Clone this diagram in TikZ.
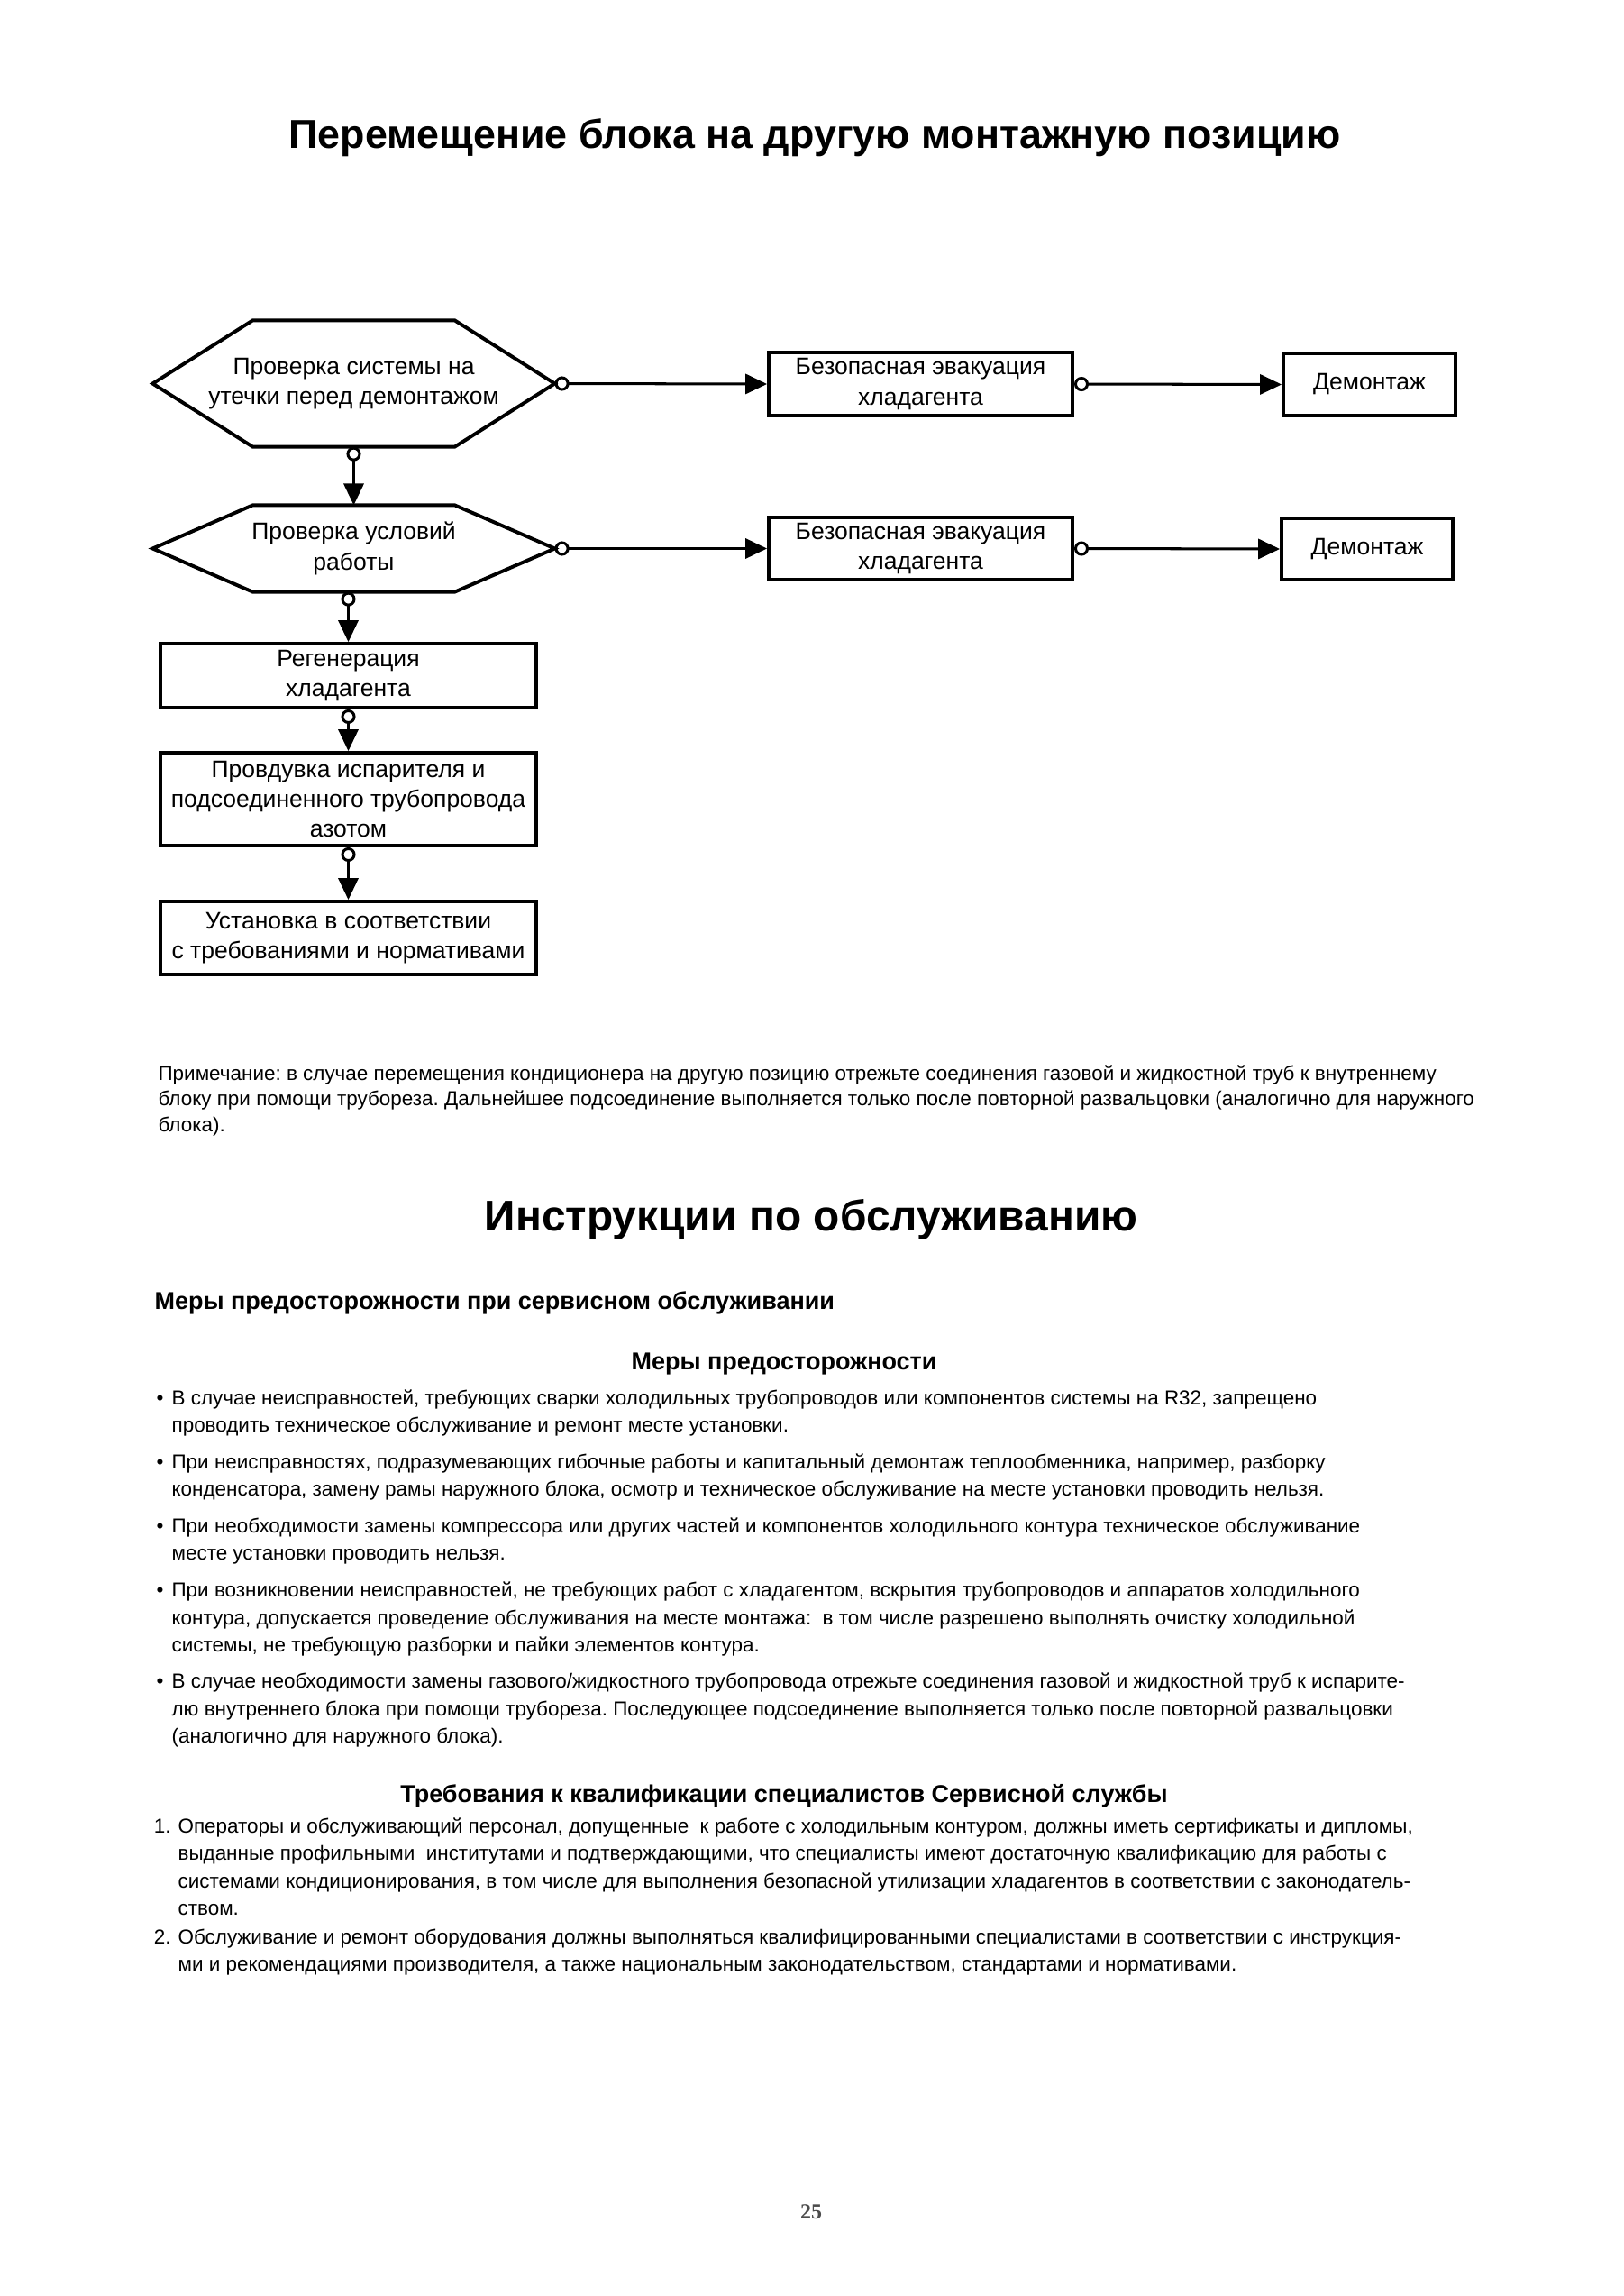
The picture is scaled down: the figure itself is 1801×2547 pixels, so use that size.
\documentclass[tikz,border=0pt]{standalone}
\usepackage{fontspec}
\setmainfont{Liberation Sans}
\newfontfamily\pagenumfont{Liberation Serif}
\usetikzlibrary{arrows.meta,calc}
\frenchspacing
\newdimen\px \px=0.3305pt
\newcommand\chartfont{\fontsize{8.76pt}{11.07pt}\selectfont}
\newcommand\bodytext{\fontsize{7.42pt}{9.92pt}\selectfont}
\newcommand\notetext{\fontsize{7.42pt}{9.42pt}\selectfont}
\newcommand\subhead{\fontsize{8.92pt}{10pt}\selectfont\bfseries}
\def\hexframe(#1)[#2]{\draw[frame] (#1.west) -- ($(#1.north west)+(#2,0)$) -- ($(#1.north east)+(-#2,0)$) -- (#1.east) -- ($(#1.south east)+(-#2,0)$) -- ($(#1.south west)+(#2,0)$) -- cycle;}

\begin{document}
\begin{tikzpicture}[x=\px, y=-\px,
		frame/.style={line width=1.3pt, line join=miter},
		box/.style={draw, line width=1.3pt, inner sep=0pt, align=center, font=\chartfont},
		hexbox/.style={inner sep=0pt, align=center, font=\chartfont},
		link/.style={line width=1pt, {Circle[open,length=5.3pt,width=5.3pt]}-{Triangle[length=7.9pt,width=7.3pt]}},
		para/.style={anchor=base west, inner sep=0pt, align=left, font=\bodytext}]
			%%%%% PAGE %%%%%
			\fill[white] (0, 0) rectangle (1801, 2547);
			
			\node[anchor=base, font=\fontsize{14.8pt}{16pt}\selectfont\bfseries] (title) at (904, 165) {Перемещение блока на другую монтажную позицию};
			
			%%%%% FLOWCHART %%%%%
			\node[hexbox, minimum width=445\px, minimum height=139\px] (leak) at (392.5, 425.5) {Проверка системы на\\утечки перед демонтажом};
			\hexframe(leak)[111]
			\node[hexbox, minimum width=445\px, minimum height=95\px] (cond) at (392.5, 608.5) {Проверка условий\\работы};
			\hexframe(cond)[111]
			
			\node[box, minimum width=337\px, minimum height=70\px] (evacA) at (1021.5, 426) {Безопасная эвакуация\\хладагента};
			\node[box, minimum width=191\px, minimum height=69\px] (dismA) at (1519.5, 426.5) {Демонтаж};
			\node[box, minimum width=337\px, minimum height=69\px] (evacB) at (1021.5, 608.5) {Безопасная эвакуация\\хладагента};
			\node[box, minimum width=190\px, minimum height=68\px] (dismB) at (1517, 609) {Демонтаж};
			
			\node[box, minimum width=417\px, minimum height=71\px] (regen) at (386.5, 749.5) {Регенерация\\хладагента};
			\node[box, minimum width=417\px, minimum height=103\px] (purge) at (386.5, 886.5) {Провдувка испарителя и\\подсоединенного трубопровода\\азотом};
			\node[box, minimum width=417\px, minimum height=81\px] (inst) at (386.5, 1040.5) {Установка в соответствии\\с требованиями и нормативами};
			
			\draw[link] (leak.east) -- (evacA.west);
			\draw[link] (evacA.east) -- (dismA.west);
			\draw[link] (cond.east) -- (evacB.west);
			\draw[link] (evacB.east) -- (dismB.west);
			\draw[link] (leak.south) -- (cond.north);
			\draw[link] (cond.south -| regen.north) -- (regen.north);
			\draw[link] (regen.south) -- (purge.north);
			\draw[link] (purge.south) -- (inst.north);
			
			%%%%% NOTE %%%%%
			% multi-line nodes sit on the baseline of their last line
			\node[para, font=\notetext] (note) at (175, 1255) {Примечание: в случае перемещения кондиционера на другую позицию отрежьте соединения газовой и жидкостной труб к внутреннему\\
				блоку при помощи трубореза. Дальнейшее подсоединение выполняется только после повторной развальцовки (аналогично для наружного\\
				блока).};
			
			%%%%% SERVICE %%%%%
			\node[anchor=base, font=\fontsize{15.8pt}{17pt}\selectfont\bfseries] (service) at (900, 1365) {Инструкции по обслуживанию};
			\node[anchor=base west, font=\subhead, inner sep=0pt] (safety) at (171, 1452) {Меры предосторожности при сервисном обслуживании};
			\node[anchor=base, font=\subhead, inner sep=0pt] (caution) at (870, 1519) {Меры предосторожности};
			
			\node[para] (bulA) at (190, 1588) {\llap{•\hspace{9\px}}В случае неисправностей, требующих сварки холодильных трубопроводов или компонентов системы на R32, запрещено\\
				проводить техническое обслуживание и ремонт месте установки.};
			\node[para] (bulB) at (190, 1659) {\llap{•\hspace{9\px}}При неисправностях, подразумевающих гибочные работы и капитальный демонтаж теплообменника, например, разборку\\
				конденсатора, замену рамы наружного блока, осмотр и техническое обслуживание на месте установки проводить нельзя.};
			\node[para] (bulC) at (190, 1730) {\llap{•\hspace{9\px}}При необходимости замены компрессора или других частей и компонентов холодильного контура техническое обслуживание\\
				месте установки проводить нельзя.};
			\node[para] (bulD) at (190, 1832) {\llap{•\hspace{9\px}}При возникновении неисправностей, не требующих работ с хладагентом, вскрытия трубопроводов и аппаратов холодильного\\
				контура, допускается проведение обслуживания на месте монтажа:~ в том числе разрешено выполнять очистку холодильной\\
				системы, не требующую разборки и пайки элементов контура.};
			\node[para] (bulE) at (190, 1933) {\llap{•\hspace{9\px}}В случае необходимости замены газового/жидкостного трубопровода отрежьте соединения газовой и жидкостной труб к испарите-\\
				лю внутреннего блока при помощи трубореза. Последующее подсоединение выполняется только после повторной развальцовки\\
				(аналогично для наружного блока).};
			
			\node[anchor=base, font=\subhead, inner sep=0pt] (staff) at (870, 1999) {Требования к квалификации специалистов Сервисной службы};
			\node[para] (itemA) at (197, 2124) {\llap{1.\hspace{8\px}}Операторы и обслуживающий персонал, допущенные~ к работе с холодильным контуром, должны иметь сертификаты и дипломы,\\
				выданные профильными~ институтами и подтверждающими, что специалисты имеют достаточную квалификацию для работы с\\
				системами кондиционирования, в том числе для выполнения безопасной утилизации хладагентов в соответствии с законодатель-\\
				ством.};
			\node[para] (itemB) at (197, 2186) {\llap{2.\hspace{8\px}}Обслуживание и ремонт оборудования должны выполняться квалифицированными специалистами в соответствии с инструкция-\\
				ми и рекомендациями производителя, а также национальным законодательством, стандартами и нормативами.};
			
			\node[anchor=base, font=\fontsize{7.9pt}{9pt}\selectfont\pagenumfont\bfseries, text=black!70] (pagenum) at (900, 2461) {25};
			%%%%% END %%%%%
		\end{tikzpicture}
\end{document}
